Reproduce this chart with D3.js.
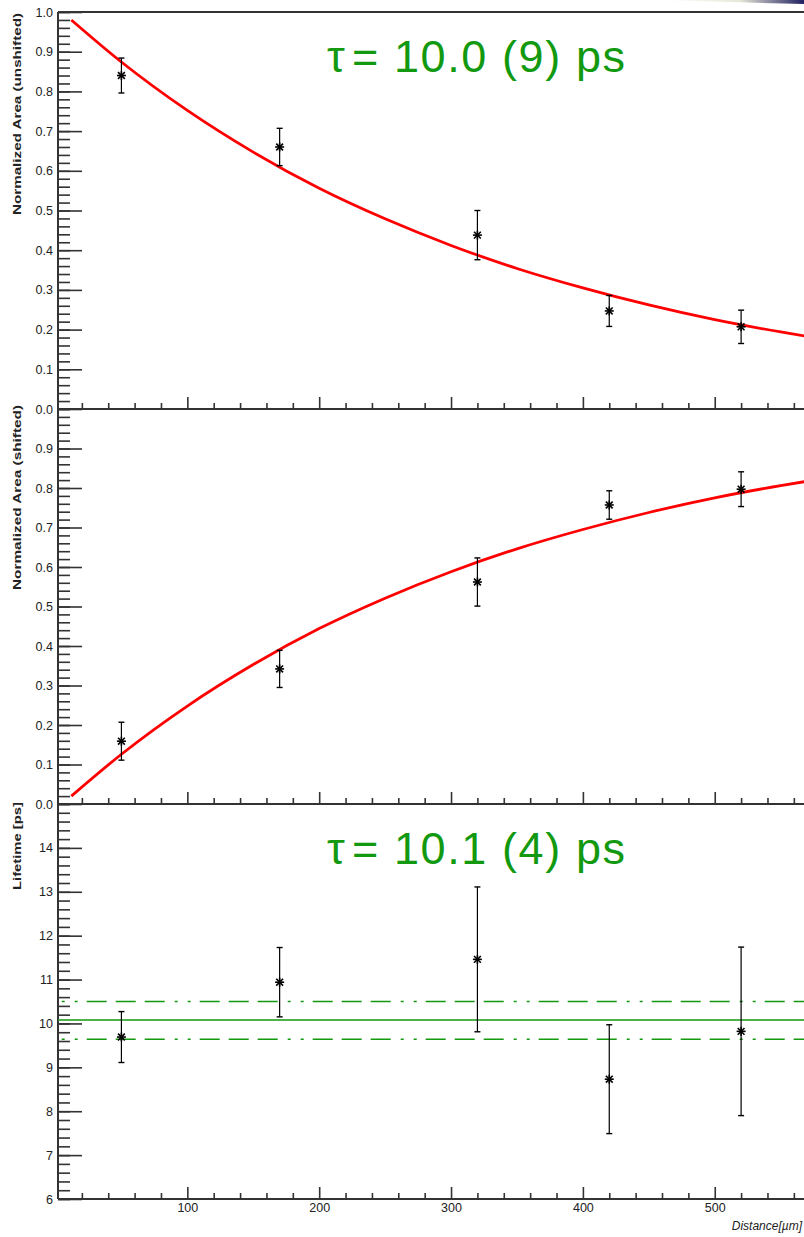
<!DOCTYPE html>
<html>
<head>
<meta charset="utf-8">
<script src="https://cdn.jsdelivr.net/npm/d3@7"></script>
<style>
  html, body { margin: 0; padding: 0; background: #fff; }
  svg { display: block; }
  text { font-family: "Liberation Sans", Arial, sans-serif; }
</style>
</head>
<body>
<svg id="chart" width="804" height="1237"></svg>
<script>
// Measured source distances (µm)
const distances = [50, 170, 320, 420, 520];

// Normalized peak areas, unshifted component
const unshiftedArea = [0.840, 0.660, 0.438, 0.247, 0.207];
const unshiftedErr  = [0.044, 0.047, 0.062, 0.039, 0.042];

// Normalized peak areas, shifted component
const shiftedArea = [0.159, 0.342, 0.562, 0.757, 0.797];
const shiftedErr  = [0.048, 0.047, 0.061, 0.036, 0.044];

// Lifetime extracted at each distance (ps)
const lifetime    = [9.69, 10.94, 11.46, 8.73, 9.82];
const lifetimeErr = [0.58, 0.79, 1.65, 1.24, 1.92];

// Decay-curve fit, sampled along the distance axis
const fitDistance   = [12, 50, 100, 150, 200, 250, 300, 350, 400, 450, 500, 550, 568];
const unshiftedFit  = [0.980, 0.874, 0.752, 0.647, 0.556, 0.479, 0.412, 0.354, 0.305, 0.262, 0.225, 0.194, 0.184];
const shiftedFit    = [0.020, 0.126, 0.248, 0.353, 0.444, 0.521, 0.588, 0.646, 0.695, 0.738, 0.775, 0.806, 0.816];

// Weighted mean lifetime and its ±1σ band (ps)
const meanLifetime = 10.08;
const lifetimeBand = [10.50, 9.64];

// Annotations and axis titles
const tauLabels   = ["= 10.0 (9) ps", "= 10.1 (4) ps"];
const yTitles     = ["Normalized Area (unshifted)", "Normalized Area (shifted)", "Lifetime [ps]"];
const xTitle      = "Distance[\u00b5m]";
const xMajorTicks = [100, 200, 300, 400, 500];

const GREEN = "#12990f";
const AXIS = "#333";

const svg = d3.select("#chart");

// Soft corner shading at the top right
const defs = svg.append("defs");
const grad = defs.append("linearGradient").attr("id", "cornerShade")
  .attr("x1", "0").attr("x2", "1").attr("y1", "0").attr("y2", "0");
grad.append("stop").attr("offset", "0").attr("stop-color", "#fff");
grad.append("stop").attr("offset", "0.55").attr("stop-color", "#e8e8d8");
grad.append("stop").attr("offset", "1").attr("stop-color", "#202060");
svg.append("path")
  .attr("d", "M660,0 L804,0 L804,4 Q740,2.5 660,0 Z")
  .attr("fill", "url(#cornerShade)");

const x = d3.scaleLinear().domain([1.9, 567.7]).range([58, 804]);

const panels = [
  { y: d3.scaleLinear().domain([0, 1]).range([409, 12]), major: d3.range(0, 11).map(d => d / 10),
    minorStep: 0.02, fmt: d3.format(".1f"), title: yTitles[0], titleEnd: 13, titleLen: 202 },
  { y: d3.scaleLinear().domain([0, 1]).range([804, 409]), major: d3.range(0, 10).map(d => d / 10),
    minorStep: 0.02, fmt: d3.format(".1f"), title: yTitles[1], titleEnd: 405, titleLen: 185 },
  { y: d3.scaleLinear().domain([6, 15]).range([1199, 804]), major: d3.range(6, 15),
    minorStep: 0.2, fmt: d3.format("d"), title: yTitles[2], titleEnd: 802, titleLen: 88 }
];

const xMinor = d3.range(20, 568, 20).filter(v => v % 100 !== 0);

panels.forEach((p, i) => {
  const g = svg.append("g");
  const [lo, hi] = p.y.domain();
  const yBottom = p.y(lo);

  // y axis: minor ticks
  const nMinor = Math.round((hi - lo) / p.minorStep);
  const minor = d3.range(0, nMinor + 1).map(k => lo + k * p.minorStep);
  g.append("g").attr("transform", "translate(58,0)")
    .call(d3.axisLeft(p.y).tickValues(minor).tickSize(-12).tickFormat(""))
    .call(a => a.select(".domain").remove())
    .call(a => a.selectAll("line").attr("stroke", AXIS).attr("stroke-width", 1.6));

  // y axis: major ticks and labels
  g.append("g").attr("transform", "translate(58,0)")
    .call(d3.axisLeft(p.y).tickValues(p.major).tickSize(-24).tickPadding(5).tickFormat(p.fmt))
    .call(a => a.select(".domain").remove())
    .call(a => a.selectAll("line").attr("stroke", AXIS).attr("stroke-width", 1.6))
    .call(a => a.selectAll("text").attr("fill", "#222").attr("font-size", 12.5)
      .style("font-family", "'Liberation Sans', Arial, sans-serif"));

  // x axis ticks along the bottom of each panel
  g.append("g").attr("transform", `translate(0,${yBottom})`)
    .call(d3.axisBottom(x).tickValues(xMinor).tickSize(-6).tickFormat(""))
    .call(a => a.select(".domain").remove())
    .call(a => a.selectAll("line").attr("stroke", AXIS).attr("stroke-width", 1.6));
  g.append("g").attr("transform", `translate(0,${yBottom})`)
    .call(d3.axisBottom(x).tickValues(xMajorTicks).tickSize(-12).tickPadding(4)
      .tickFormat(i === 2 ? d3.format("d") : ""))
    .call(a => a.select(".domain").remove())
    .call(a => a.selectAll("line").attr("stroke", AXIS).attr("stroke-width", 1.6))
    .call(a => a.selectAll("text").attr("fill", "#222").attr("font-size", 12.5)
      .style("font-family", "'Liberation Sans', Arial, sans-serif"));

  // axis lines
  g.append("line").attr("x1", 58).attr("x2", 804).attr("y1", yBottom).attr("y2", yBottom)
    .attr("stroke", AXIS).attr("stroke-width", 2);
  g.append("line").attr("x1", 58).attr("x2", 58).attr("y1", p.y(hi)).attr("y2", yBottom)
    .attr("stroke", AXIS).attr("stroke-width", 2);

  // y-axis title, aligned to the top end of the axis
  g.append("text")
    .attr("transform", `translate(21,${p.titleEnd}) rotate(-90)`)
    .attr("text-anchor", "end")
    .attr("font-size", 11).attr("font-weight", "bold").attr("fill", "#222")
    .attr("textLength", p.titleLen).attr("lengthAdjust", "spacingAndGlyphs")
    .text(p.title);
});

// frame line across the top
svg.append("line").attr("x1", 58).attr("x2", 804).attr("y1", 12).attr("y2", 12)
  .attr("stroke", AXIS).attr("stroke-width", 2);

// x-axis title
svg.append("text").attr("x", 802).attr("y", 1230).attr("text-anchor", "end")
  .attr("font-size", 12).attr("font-style", "italic").attr("fill", "#222")
  .text(xTitle);

// fit curves
const fitLine = y => d3.line().x((d, i) => x(fitDistance[i])).y(d => y(d)).curve(d3.curveMonotoneX);
svg.append("path").datum(unshiftedFit).attr("d", fitLine(panels[0].y))
  .attr("fill", "none").attr("stroke", "#ff0000").attr("stroke-width", 2.8);
svg.append("path").datum(shiftedFit).attr("d", fitLine(panels[1].y))
  .attr("fill", "none").attr("stroke", "#ff0000").attr("stroke-width", 2.8);

// mean lifetime and ±1σ band
const yL = panels[2].y;
svg.append("line").attr("x1", 58).attr("x2", 804)
  .attr("y1", yL(meanLifetime)).attr("y2", yL(meanLifetime))
  .attr("stroke", GREEN).attr("stroke-width", 1.6);
svg.selectAll(".band").data(lifetimeBand).join("line").attr("class", "band")
  .attr("x1", 58).attr("x2", 804)
  .attr("y1", d => yL(d)).attr("y2", d => yL(d))
  .attr("stroke", GREEN).attr("stroke-width", 1.6)
  .attr("stroke-dasharray", "20,9,20,9,20,10,3,10,3,9")
  .attr("stroke-dashoffset", -28.7);

// data points with error bars and asterisk markers
function drawPoints(values, errors, y) {
  const g = svg.append("g");
  const pts = distances.map((d, i) => ({ d, v: values[i], e: errors[i] }));
  const pg = g.selectAll("g").data(pts).join("g")
    .attr("transform", p => `translate(${x(p.d)},0)`);
  pg.append("line").attr("y1", p => y(p.v + p.e)).attr("y2", p => y(p.v - p.e))
    .attr("stroke", "#000").attr("stroke-width", 1.2);
  [1, -1].forEach(s => {
    pg.append("line").attr("x1", -3).attr("x2", 3)
      .attr("y1", p => y(p.v + s * p.e)).attr("y2", p => y(p.v + s * p.e))
      .attr("stroke", "#000").attr("stroke-width", 1.4);
  });
  const r = 4.5, rd = 3.4;
  const star = [[0, -r, 0, r], [-r, 0, r, 0], [-rd, -rd, rd, rd], [-rd, rd, rd, -rd]];
  star.forEach(([a, b, c, d]) => {
    pg.append("line")
      .attr("x1", a).attr("x2", c)
      .attr("y1", p => y(p.v) + b).attr("y2", p => y(p.v) + d)
      .attr("stroke", "#000").attr("stroke-width", 1.6);
  });
}
drawPoints(unshiftedArea, unshiftedErr, panels[0].y);
drawPoints(shiftedArea, shiftedErr, panels[1].y);
drawPoints(lifetime, lifetimeErr, panels[2].y);

// lifetime annotations
[[72, 0], [864, 1]].forEach(([base, k]) => {
  const t = svg.append("text").attr("y", base).attr("fill", GREEN).attr("font-size", 45);
  t.append("tspan").attr("x", 327).text("\u03c4");
  t.append("tspan").attr("x", 352)
    .attr("textLength", 273).attr("lengthAdjust", "spacing")
    .text(tauLabels[k]);
});
</script>
</body>
</html>
